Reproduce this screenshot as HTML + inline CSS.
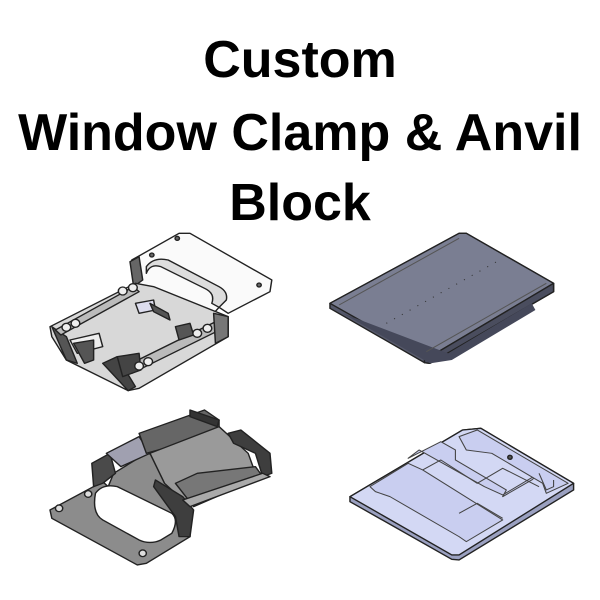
<!DOCTYPE html>
<html><head><meta charset="utf-8"><style>
html,body{margin:0;padding:0;background:#fff;}
body{width:600px;height:600px;overflow:hidden;position:relative;}
.t{position:absolute;left:0;width:600px;text-align:center;font-family:"Liberation Sans",sans-serif;font-weight:bold;font-size:52px;color:#000;line-height:1;}
svg{position:absolute;left:0;top:0;}
</style></head><body>
<div class="t" style="top:34px">Custom</div>
<div class="t" style="top:107px">Window Clamp &amp; Anvil</div>
<div class="t" style="top:177px">Block</div>
<svg width="600" height="600" viewBox="0 0 600 600">
<g transform="translate(30,220) scale(0.3636,0.3333)" stroke="#222" stroke-width="4" stroke-linejoin="round">
<!-- top-left clamp -->
<polygon points="280,120 410,40 440,40 665,180 660,215 545,280 520,262 505,280 505,300 290,200 280,160" fill="#fafafa"/>
<path d="M320,140 Q340,110 380,120 L520,200 Q545,215 540,240 L520,262 L500,250 Q510,220 480,205 L360,140 Q330,130 320,160 Z" fill="#ddd"/>
<polygon points="275,125 300,110 310,180 285,200" fill="#666"/>
<polygon points="55,320 290,190 340,200 545,290 545,350 300,505 270,512 100,420 60,350" fill="#d8d8d8"/>
<polygon points="60,320 100,420 130,430 100,350" fill="#555"/>
<polygon points="70,330 285,200 300,215 85,345" fill="#bbb"/>
<polygon points="260,440 520,300 540,320 280,460" fill="#bbb"/>
<polygon points="200,430 240,410 290,500 270,512" fill="#444"/>
<polygon points="110,360 190,340 200,380 130,400" fill="#eee"/>
<polygon points="120,370 175,360 175,420 150,430" fill="#555"/>
<polygon points="290,250 340,240 345,270 300,280" fill="#dde"/>
<polygon points="330,250 380,280 385,300 340,275" fill="#555"/>
<polygon points="400,320 440,310 450,345 410,360" fill="#555"/>
<polygon points="240,410 300,400 305,450 255,470" fill="#444"/>
<polygon points="505,280 545,290 545,350 510,370" fill="#777"/>
<circle cx="100" cy="322" r="12" fill="#eee"/><circle cx="125" cy="310" r="12" fill="#eee"/>
<circle cx="255" cy="213" r="12" fill="#eee"/><circle cx="283" cy="203" r="12" fill="#eee"/>
<circle cx="460" cy="340" r="12" fill="#eee"/><circle cx="488" cy="325" r="12" fill="#eee"/>
<circle cx="300" cy="438" r="12" fill="#eee"/><circle cx="325" cy="425" r="12" fill="#eee"/>
<circle cx="405" cy="55" r="6" fill="#666"/><circle cx="630" cy="195" r="6" fill="#666"/><circle cx="335" cy="105" r="6" fill="#666"/>
<!-- top-right anvil plate -->
<polygon points="825,250 1180,40 1200,40 1440,190 1440,215 1100,430 1085,428 825,265" fill="#55586a"/>
<polygon points="825,250 1180,40 1200,40 1440,190 1100,410 1085,410" fill="#7a7e92"/>
<polygon points="1085,410 1100,410 1440,190 1440,215 1100,430 1085,428" fill="#4a4d5e"/>
<polygon points="860,280 1100,430 1160,420 1390,270 1380,250 1150,400" fill="#45485a" stroke="none"/>
<line x1="850" y1="255" x2="1180" y2="55" stroke="#555" stroke-width="3"/>
<line x1="1090" y1="395" x2="1420" y2="190" stroke="#555" stroke-width="3"/>
<line x1="980" y1="310" x2="1300" y2="115" stroke="#333" stroke-width="3" stroke-dasharray="3,22"/>
<!-- bottom-left clamp -->
<polygon points="55,870 200,785 215,800 230,760 320,700 420,720 440,760 440,880 440,950 320,1030 295,1035 60,895" fill="#8c8c8c"/>
<path d="M180,820 Q200,790 240,800 L390,880 Q410,900 390,940 L360,960 Q330,975 300,960 L200,900 Q170,880 180,820 Z" fill="#fff"/>
<polygon points="170,730 220,700 235,760 200,790 175,800" fill="#4a4a4a"/>
<polygon points="210,700 300,650 330,700 250,740" fill="#a0a0b0"/>
<polygon points="300,640 480,570 520,600 520,640 320,700" fill="#666"/>
<polygon points="440,570 520,600 515,620 440,590" fill="#333"/>
<polygon points="330,700 520,620 600,700 620,760 420,840 370,790" fill="#9a9a9a"/>
<polygon points="545,640 580,630 660,700 665,760 640,770 620,700 560,670" fill="#3e3e3e"/>
<polygon points="345,780 420,830 450,870 440,950 410,950 400,890 340,800" fill="#3e3e3e"/>
<polygon points="400,790 460,760 620,740 640,770 450,860" fill="#777"/>
<polygon points="420,840 640,760 660,770 440,860" fill="#aaa"/>
<circle cx="80" cy="865" r="10" fill="#ddd"/><circle cx="160" cy="822" r="10" fill="#ddd"/><circle cx="310" cy="1000" r="10" fill="#ddd"/>
<!-- bottom-right anvil plate -->
<polygon points="880,830 1190,630 1240,625 1495,790 1495,810 1180,1020 1160,1018 880,845" fill="#9aa0c0"/>
<polygon points="880,830 1190,630 1240,625 1495,790 1180,1005 1160,1005" fill="#d3d8f4"/>
<g stroke="#444" stroke-width="3" fill="#c9cef0">
<polygon points="935,800 1040,730 1080,750 1300,900 1200,965 1180,950 990,830 950,815"/>
<polygon points="1040,715 1130,665 1170,690 1170,720 1310,810 1300,830 1380,780 1400,760 1300,825 1250,800 1070,690"/>
<polygon points="1180,650 1230,630 1480,790 1420,820 1410,790 1270,700 1200,690"/>
</g>
<polyline points="1080,750 1130,720 1230,790 1300,745 1400,800" fill="none" stroke="#444" stroke-width="3"/>
<polyline points="1180,880 1230,850 1300,895" fill="none" stroke="#444" stroke-width="3"/>
<polyline points="1400,760 1420,810 1440,800 1440,780" fill="none" stroke="#444" stroke-width="3"/>
<circle cx="1320" cy="712" r="6" fill="#555"/>
</g>
</svg>
</body></html>
